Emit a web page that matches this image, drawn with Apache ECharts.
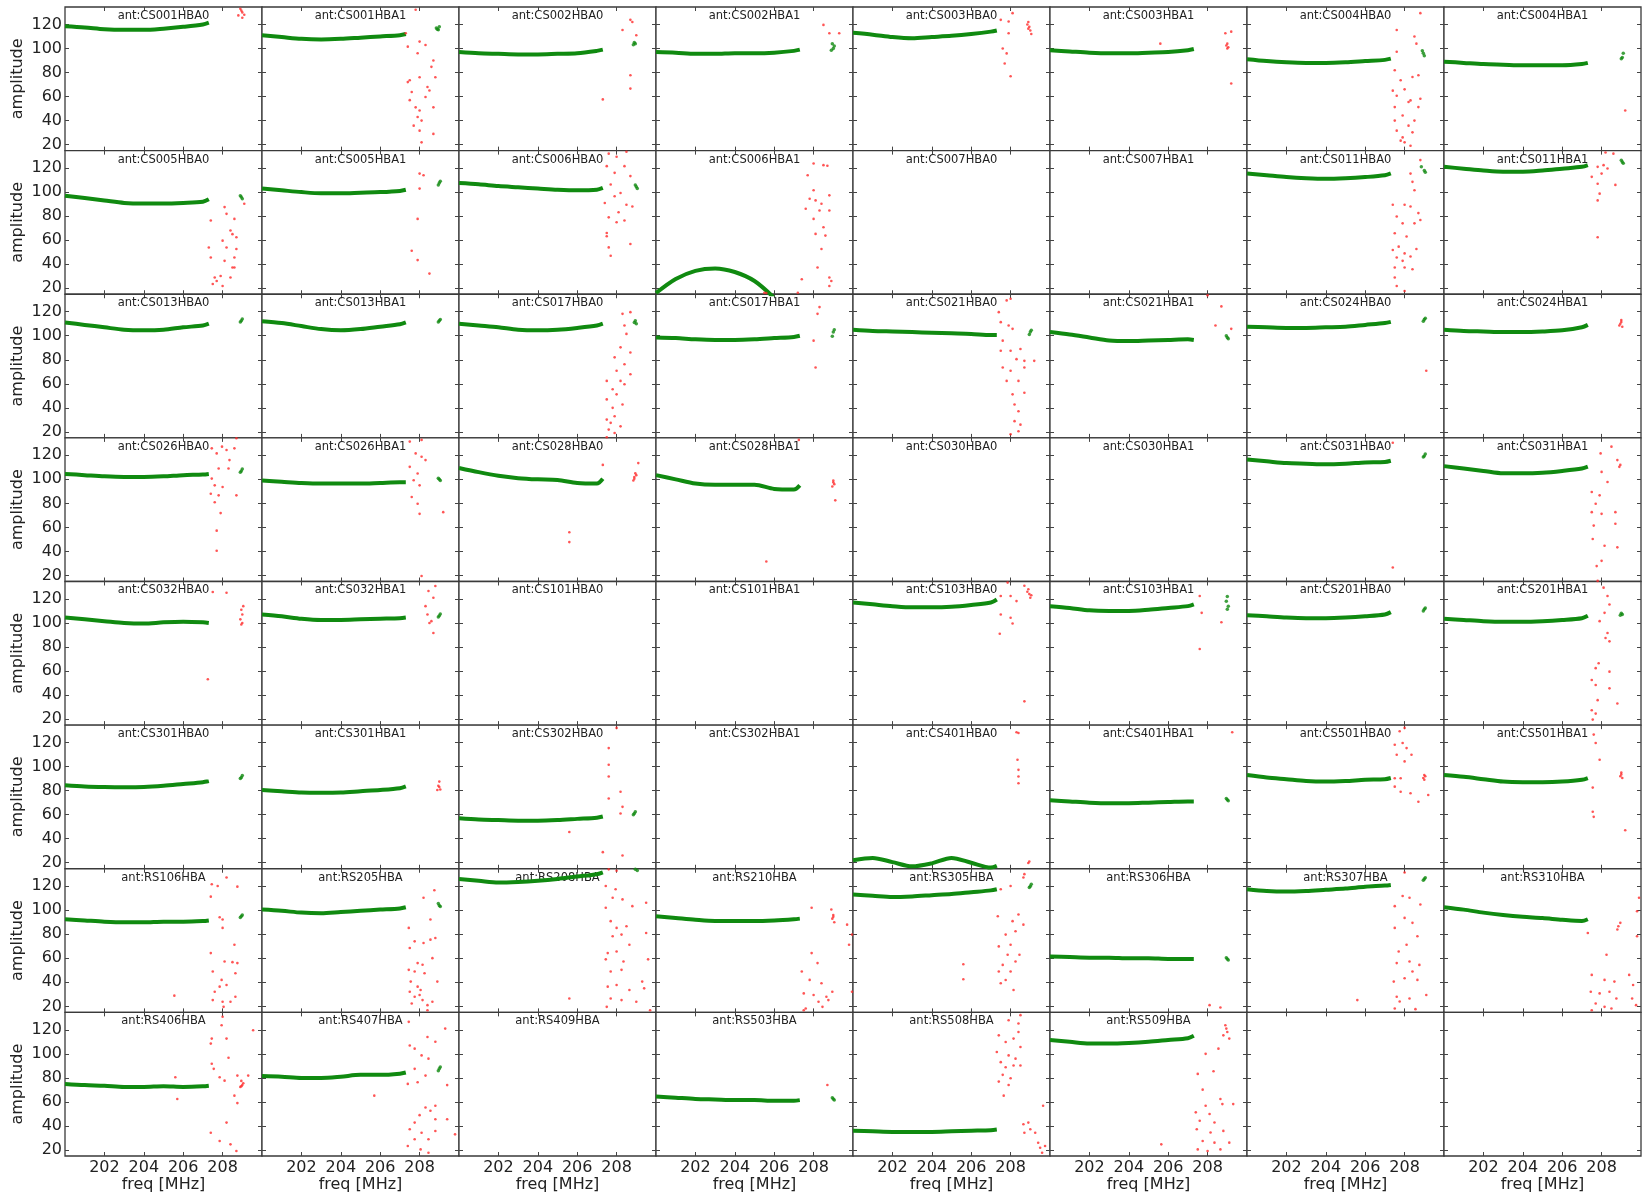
<!DOCTYPE html>
<html>
<head>
<meta charset="utf-8">
<script src="https://cdn.jsdelivr.net/npm/echarts@6/dist/echarts.min.js"></script>
<style>
  html, body { margin: 0; padding: 0; background: #fff; }
  #chart { width: 1642px; height: 1197px; }
</style>
</head>
<body>
<div id="chart"></div>
<script>
// antenna names, row by row (8 x 8), '' = no panel title
const antNames = [
  'CS001HBA0', 'CS001HBA1', 'CS002HBA0', 'CS002HBA1', 'CS003HBA0', 'CS003HBA1', 'CS004HBA0', 'CS004HBA1',
  'CS005HBA0', 'CS005HBA1', 'CS006HBA0', 'CS006HBA1', 'CS007HBA0', 'CS007HBA1', 'CS011HBA0', 'CS011HBA1',
  'CS013HBA0', 'CS013HBA1', 'CS017HBA0', 'CS017HBA1', 'CS021HBA0', 'CS021HBA1', 'CS024HBA0', 'CS024HBA1',
  'CS026HBA0', 'CS026HBA1', 'CS028HBA0', 'CS028HBA1', 'CS030HBA0', 'CS030HBA1', 'CS031HBA0', 'CS031HBA1',
  'CS032HBA0', 'CS032HBA1', 'CS101HBA0', 'CS101HBA1', 'CS103HBA0', 'CS103HBA1', 'CS201HBA0', 'CS201HBA1',
  'CS301HBA0', 'CS301HBA1', 'CS302HBA0', 'CS302HBA1', 'CS401HBA0', 'CS401HBA1', 'CS501HBA0', 'CS501HBA1',
  'RS106HBA', 'RS205HBA', 'RS208HBA', 'RS210HBA', 'RS305HBA', 'RS306HBA', 'RS307HBA', 'RS310HBA',
  'RS406HBA', 'RS407HBA', 'RS409HBA', 'RS503HBA', 'RS508HBA', 'RS509HBA', '', ''
];

// frequencies where the good (green) band is sampled
const greenFreq = [200, 201, 202, 203, 204, 205, 206, 207, 207.3];

// amplitude of the green band at greenFreq, per panel (null = no data)
const greenAmp = [
  [118.5,117.5,116,115.5,115.5,116.5,118,120,121.5],
  [111,109.5,108,107.5,108,109,110,111,112],
  [97,96,95.5,95,95,95.5,96,98,99],
  [97,96.5,95.5,95.5,96,96,96.5,98,99],
  [113,111.5,109.5,108.5,109.5,110.5,112,114,115],
  [98.5,97.5,96.5,96,96,96.5,97,98.5,99.5],
  [91,89.5,88.5,88,88,88.5,89.5,90.5,91.5],
  [89,88,87,86.5,86,86,86,87,88],

  [97,95,93,91,90.5,90.5,91,92,94],
  [103,101.5,100,99,99,99.5,100,101,102],
  [107.5,106.5,105,104,103,102,101.5,102,103.5],
  [16,27.7,34.5,36.5,33.5,26,12,null,null],
  null,
  null,
  [115.5,114,112.5,111.5,111,111.5,112.5,114,115.5],
  [121,119.5,118,117,117,118,119.5,121,122.5],

  [111,109,107,105,104.5,105,107,108.5,110],
  [112,110.5,108,105.5,104.5,105.5,107.5,109.5,111],
  [110,108.5,107,105,104.5,105,106.5,108.5,110],
  [98.5,98,97,96.5,96.5,97,98,99,100],
  [105,104,103.5,103,102.5,102,101.5,100.5,100.5],
  [103,101,98.5,96,95.5,96,96.5,97,96.5],
  [107.5,107,106.5,106.5,107,107.5,109,110.5,111.5],
  [105,104,103.5,103,103,103.5,104.5,107,109],

  [104.5,103.5,102.5,102,102,102.5,103.5,104,104.5],
  [99,98,97,96.5,96.5,96.5,97,97.5,97.5],
  [109.5,106,103,101,100,99.5,97,96.5,100.5],
  [103.5,100,96.5,95.5,95.5,95.5,92,91.5,95],
  null,
  null,
  [116.5,115,113.5,113,112.5,113,114,114.5,115.5],
  [111,109,107,105,105,105.5,107,109,110.5],

  [104.5,103,101.5,100,99.5,100.5,101,100.5,100],
  [107,105.5,103.5,102.5,102.5,103,103.5,104,104.5],
  null,
  null,
  [117,115.5,114,113,113,113.5,115,117,119.5],
  [114,112.5,110.5,110,110,111,112.5,114,115.5],
  [106.5,105.5,104.5,104,104,104.5,105.5,107,109],
  [103.5,102.5,101.5,101,101,101.5,102.5,104,106],

  [84.5,83.5,83,82.8,83,84,85.5,87,88],
  [80.5,79.5,78.5,78.3,78.5,79.5,80.5,82,83.5],
  [57,56,55.5,55,55,55.5,56.5,57.5,58.5],
  null,
  [22,24,20.5,17,19.5,24,20,16,17.5],
  [72,71,70,69.5,69.5,70,70.5,71,71],
  [93,91,89.5,88,87.5,88,89,89.5,90.5],
  [93,91.5,89.5,87.5,87,87,87.5,89,90.5],

  [92.5,91.5,90.5,90,90,90.5,90.5,91,91.5],
  [100.5,99.5,98,97.5,98.5,99.5,100.5,101.5,102.5],
  [126,124.5,123,123.5,124.5,126,128,130,131.5],
  [95,93.5,92,91,91,91,91.5,92.5,93],
  [113,112,111,111.5,112.5,113.5,115,116.5,117.5],
  [61.5,61,60.5,60.5,60,60,59.5,59.5,59.5],
  [117.5,116,115.5,116,117,118,119.5,120.5,121],
  [102.5,100.5,98,96,94.5,93.5,92,91,92.5],

  [75,74,73.5,72.5,72.5,73,72.5,73,73.5],
  [81.5,81,80,80,81,82.5,82.5,83.5,84.5],
  null,
  [64.5,63.5,62.5,62,61.5,61.5,61,61,61.5],
  [36,35.5,35,35,35,35.5,36,36.5,37],
  [111.5,110,108.5,108.5,109,110,111.5,113,115],
  null,
  null
];

// small green clump near 209 MHz, per panel
const tailPts = [
  [], [[208.85,117],[208.95,115.5],[209.0,118],[208.9,116]], [[208.85,103],[208.9,105],[208.95,104]], [[208.95,104],[209.0,100],[208.9,98.5],[209.05,102]],
  [], [], [[208.95,96],[209.0,94],[208.9,98]], [[209.0,91.5],[209.05,92.5],[209.1,96]],
  [[208.95,96],[209.0,94.5],[208.9,97]], [[209.0,107.5],[209.05,109],[208.95,106]], [[209.0,104.5],[208.95,106],[209.05,103]], [],
  [], [], [[209.0,118],[208.85,121],[209.05,116.5]], [[209.05,125],[209.1,124],[209.0,126.5]],
  [[208.95,112.5],[209.0,114],[208.9,111.5]], [[209.0,112.5],[209.05,113.5],[208.95,111.5]], [[208.9,111],[208.95,112.5],[209.0,110]], [[209.0,103],[208.95,99.5],[209.05,105]],
  [[209.0,103],[208.95,101],[209.05,104.5]], [[209.0,98.5],[208.95,100],[209.05,97.5]], [[209.0,113.5],[208.95,112],[209.05,114.5]], [],
  [[208.95,107],[209.0,108.5],[208.9,106]], [[209.0,100],[208.95,101],[209.05,99]], [], [],
  [], [], [[209.0,119.5],[209.05,121],[208.95,118.5]], [],
  [], [[209.0,106],[209.05,107.5],[208.95,105]], [], [],
  [], [[209.0,122],[208.95,118],[209.05,114],[209.0,111.5]], [[209.0,111.5],[208.95,110],[209.05,112.5]], [[209.0,108],[209.05,107],[208.95,106.5]],
  [[208.95,91],[209.0,92.5],[208.9,90]], [], [[208.9,61],[208.95,62.5],[208.85,60]], [],
  [], [[209.0,72.5],[208.95,73.5],[209.05,71.5]], [], [],
  [[208.95,95],[209.0,96],[208.9,94]], [[209.0,104],[208.95,105.5],[209.05,103]], [[208.95,134],[209.05,133]], [],
  [[209.0,120],[209.05,121.5],[208.95,119]], [[209.0,59.5],[208.95,60.5],[209.05,58.5]], [[209.0,126],[208.95,125],[209.05,127]], [],
  [], [[209.0,87.5],[208.95,86],[209.05,89]], [], [[209.0,62.5],[208.95,63.5],[209.05,61.5]],
  [], [], [], []
];

// flagged (red) points, per panel
const redPts = [
  [[208.9,133],[209.0,130],[208.8,127.5],[209.1,128],[209.0,125.5],[208.95,131.5]],
  [[207.8,132.2],[208.7,135],[207.3,112.7],[207.4,101.5],[208.0,105.7],[208.3,102.9],[207.9,96],[208.7,90],[208.6,84.7],[207.5,73.5],[207.4,72],[208.0,76],[208.4,68],[208.5,65],[208.8,76],[207.6,63.8],[207.5,57],[208.3,59.6],[207.8,51],[208.0,48.4],[208.7,51],[207.9,43],[208.1,40],[207.7,35.8],[208.0,31.6],[208.7,28.9],[208.1,21.9]],
  [[208.7,123.8],[208.3,115.4],[209.0,111],[208.7,77.7],[208.7,66.6],[207.3,57.6],[208.8,122]],
  [[208.5,119.6],[208.8,112.6],[209.3,112.6]],
  [[208.9,122],[208.95,118],[209.0,115],[208.85,120],[209.05,112],[208.9,116.5],[207.5,123.8],[207.9,122.4],[208.0,135],[208.1,129.4],[207.6,100],[207.8,95.9],[207.7,87.5],[208.0,76.9],[207.9,112.7]],
  [[209.0,104],[209.05,101],[208.95,102.5],[209.0,100],[208.9,112.7],[209.2,114],[209.2,70.8],[205.6,104]],
  [[207.6,115.4],[208.5,109.9],[207.6,97.3],[208.8,129.4],[208.6,104],[207.5,81.9],[207.8,73.5],[208.4,76.3],[208.7,77.7],[207.4,64.9],[207.6,60.6],[208.0,66],[208.3,56.8],[208.7,51.2],[207.5,51.2],[207.9,44.2],[208.2,35.8],[207.6,31.6],[208.4,30.2],[207.9,26],[208.0,21.9],[208.3,19],[208.5,40],[207.5,40],[208.2,55.4],[207.8,23.3],[208.8,58.2]],
  [[209.2,48.4]],

  [[207.4,76.3],[207.3,53.9],[207.4,45.6],[208.1,87.5],[208.2,81.9],[208.4,68],[208.6,77.7],[208.5,65],[208.7,62.4],[208.0,59.6],[208.2,53.9],[208.6,45.6],[208.1,42.8],[208.5,37.2],[207.9,30.2],[207.5,23.5],[208.0,21.9],[207.7,26],[208.4,28.9],[208.6,37.2],[209.1,90.3],[207.6,28.9],[208.7,52.6]],
  [[208.0,115.4],[208.2,114],[208.0,102.9],[207.9,77.7],[207.6,51.2],[207.9,43.4],[208.5,32.2]],
  [[207.6,132],[208.0,129.4],[208.5,133.6],[207.5,121.6],[207.9,116],[208.4,121.6],[208.7,113.3],[207.7,106.3],[208.2,99.3],[207.4,90.9],[207.9,96.5],[208.5,89.5],[208.8,88],[207.6,79],[208.1,83.2],[208.4,76.3],[207.5,63.2],[208.0,74.9],[207.6,54],[207.7,47],[208.7,56.8],[207.5,66]],
  [[207.7,114],[208.0,123.8],[208.5,122.4],[208.7,121.9],[208.0,101.5],[207.8,94.5],[208.1,93.1],[208.4,90.3],[208.8,97.3],[207.6,86.1],[208.3,84.7],[208.8,84.7],[208.0,77.7],[208.5,70.8],[208.1,65.2],[208.6,63.8],[208.4,52.6],[208.2,37.2],[208.8,28.9],[208.9,26],[208.8,21.9],[207.4,27.5],[207.2,16.3],[205.6,16],[205.5,16.3]],
  [],
  [],
  [[208.8,126.6],[208.3,115.4],[208.4,108.5],[208.5,101.5],[207.4,89.5],[208.0,89.5],[208.3,88],[208.7,82.5],[207.6,79.7],[207.9,74],[208.5,74],[208.8,76.8],[207.5,65.8],[208.1,63],[207.7,54.6],[207.4,51.8],[208.0,49],[208.3,46.4],[208.6,52.6],[207.6,45.6],[207.5,37.2],[208.0,37.2],[208.4,35.8],[207.5,28.9],[207.6,21.9],[208.0,17.7],[207.9,42.8]],
  [[207.5,112.7],[207.8,121],[208.0,115.4],[208.1,122.4],[208.3,119.6],[208.6,132],[207.8,107],[207.9,98.7],[207.8,93.1],[208.7,106],[207.8,62.4],[208.5,135],[208.2,133]],

  [],
  [],
  [[208.3,118.2],[208.7,119.6],[208.4,108.5],[208.5,101.5],[208.2,90.3],[207.9,82],[208.7,86],[208.4,76.3],[207.5,62.4],[208.2,62.4],[208.7,68],[207.8,55.4],[208.0,51.2],[207.5,47],[207.8,40],[208.3,42.8],[207.5,30.2],[207.9,33],[208.2,24.6],[207.6,21.9],[207.9,19.1],[207.5,15.5],[207.7,27.5],[208.4,59.6],[208.0,70.8]],
  [[208.3,123.8],[208.2,118.2],[208.0,95.9],[208.1,73.5]],
  [[207.8,129.4],[208.0,130.8],[207.4,119.6],[207.5,111.3],[207.9,108.5],[208.1,105.7],[207.6,95.9],[207.5,87.5],[208.0,87.5],[208.5,88.9],[208.3,80.5],[208.7,79.1],[209.2,79.1],[207.6,73.5],[208.0,70.8],[208.7,73.5],[208.4,62.4],[207.8,62.4],[208.1,51.2],[208.7,52.6],[208.2,42.8],[208.4,37.2],[208.2,28.9],[208.5,26],[208.4,20.5],[208.0,18]],
  [[208.0,133.6],[208.7,124.4],[208.4,108.5],[209.2,105.7]],
  [[209.1,70.8]],
  [[209.0,113],[208.95,110],[209.05,107.5],[209.0,111.5],[208.9,108.5]],

  [[207.45,125.8],[207.97,127.2],[208.2,124.4],[208.6,125.8],[208.7,134.2],[208.35,116],[207.8,109],[207.45,100.6],[207.6,95],[208.0,93.6],[207.4,88],[207.8,86.7],[208.7,86.7],[207.6,81],[207.9,71.9],[207.7,57.3],[207.7,40.6],[208.3,109],[207.7,121.6]],
  [[207.5,131.4],[208.1,132.8],[207.8,121.6],[208.1,118.8],[208.3,116],[207.5,110.4],[207.9,104.8],[207.7,99.2],[208.0,95],[207.6,85.3],[207.9,79.7],[208.0,71.3],[209.2,72.7],[208.1,19.6]],
  [[208.9,102],[208.95,105],[208.85,99],[209.0,103.5],[208.9,100.5],[207.3,112],[209.1,113.5],[205.6,56],[205.6,47.8]],
  [[209.0,99],[209.05,96],[208.95,94],[209.0,97.5],[209.1,82.5],[205.6,31.6],[207.25,132.8]],
  [],
  [],
  [[207.4,26.6],[207.4,130.5]],
  [[208.9,110.4],[208.95,112],[208.5,127.2],[207.95,121.6],[208.8,116],[208.0,106.2],[208.3,97.8],[207.5,89.5],[207.9,86.7],[207.7,79.7],[207.5,72.7],[208.0,71.3],[208.7,72.7],[207.6,61.5],[208.7,63],[207.55,50.4],[208.15,44.8],[208.8,43.4],[208.0,32.2],[207.75,27.8],[207.8,15.5]],

  [[208.95,111],[209.0,107],[208.9,103],[209.0,100],[208.95,98.7],[208.2,125.2],[207.5,125.8],[207.25,53.2],[209.05,114]],
  [[208.45,126.6],[208.8,130.8],[208.7,121],[208.3,114],[208.4,107],[208.6,101.5],[208.5,100],[208.7,91.7]],
  [],
  [],
  [[208.9,128],[208.95,124],[209.0,121],[208.85,126],[209.05,123],[207.85,133.6],[207.5,122.4],[208.0,122.4],[208.3,118.2],[208.7,131],[207.5,107],[208.0,104.3],[208.1,99.5],[207.45,91],[208.7,34.8]],
  [[207.9,135],[207.6,122.4],[207.7,108.4],[208.7,100.6],[207.6,78.3]],
  [],
  [[208.1,129.4],[208.3,122.4],[208.4,115.4],[208.15,108.4],[207.9,101.5],[208.3,91.7],[208.4,84.7],[208.2,87.5],[207.85,66.5],[207.7,62.4],[208.4,59.5],[207.5,52.6],[207.7,48.4],[208.4,45.6],[207.8,35.8],[207.5,27.4],[207.7,24.6],[207.55,19.6],[208.8,33]],

  [],
  [[209.0,87.5],[208.95,84],[209.05,81],[209.0,83],[208.9,80.5]],
  [[208.0,132.2],[207.6,115.4],[207.6,101.5],[207.6,91.7],[207.6,73.5],[208.2,79.1],[208.3,66.5],[208.2,61],[205.6,45.6],[207.3,28.8],[208.3,26]],
  [],
  [[208.9,19.8],[208.95,21],[208.3,128.6],[208.4,128],[208.35,105.7],[208.4,97.3],[208.4,91.7],[208.4,86.1]],
  [[209.25,128.6]],
  [[209.0,93],[208.95,90.5],[209.05,92],[209.0,89],[208.0,132.2],[207.75,129.4],[207.5,118.2],[207.9,119.6],[208.1,115.4],[207.6,109.8],[208.35,109.8],[208.0,104.3],[207.5,90.3],[207.8,90.3],[207.5,83.3],[207.8,79.1],[208.7,70.8],[209.2,76.4],[208.3,77.8]],
  [[209.0,95],[208.95,92],[209.05,90.5],[209.0,93.5],[207.7,119.6],[207.6,126.6],[207.9,105.7],[207.55,82.5],[207.55,62.4],[207.6,58.2],[209.2,47]],

  [[207.45,121.6],[207.75,120.2],[208.2,127.2],[208.75,119.6],[207.4,111.3],[207.85,94.2],[208.0,92.3],[208.0,85.3],[207.4,64.3],[208.1,57.3],[208.6,71.3],[208.5,56.8],[208.75,56],[207.5,49],[208.65,47.6],[207.85,36.4],[208.2,37.8],[207.6,32.2],[208.0,23.8],[208.4,23.8],[207.5,25.2],[208.65,28],[208.05,19.6],[205.55,28.9],[207.95,42]],
  [[208.75,116.6],[208.2,110.4],[208.55,92.3],[207.45,85.3],[207.75,74.1],[208.2,72.7],[208.55,75.5],[208.8,76.9],[207.5,68.5],[208.65,60.1],[207.9,56],[208.15,54.6],[207.45,50.4],[207.75,49],[208.25,47.6],[208.9,40.6],[207.55,40.6],[207.9,36.4],[208.05,33.6],[207.5,32.2],[207.75,28],[208.15,25.2],[208.65,23.8],[207.6,22.4],[208.4,21],[208.4,16.8],[208.0,29.4]],
  [[207.6,134],[208.0,132.8],[207.45,120.2],[207.95,117.4],[207.8,110.4],[208.3,109],[207.45,102],[208.8,103.4],[209.5,106.2],[207.7,90.9],[208.0,85.3],[208.5,86.7],[208.25,79.7],[207.8,78.3],[209.5,81.1],[208.65,71.3],[207.55,64.3],[208.0,65.7],[207.45,59.1],[208.35,57.3],[208.25,50.4],[207.7,49],[209.6,59.1],[207.55,36.4],[208.0,37.8],[208.65,33.6],[209.4,35],[207.7,26.6],[208.25,25.2],[209.0,23.8],[207.5,19.6],[209.7,16.8],[205.6,26.6],[209.3,40.6]],
  [[209.0,96],[208.95,93],[209.05,90],[209.0,94.5],[207.9,102.1],[208.9,100.6],[209.7,88],[209.95,79.7],[207.9,64.3],[207.4,49],[208.2,56],[207.8,42],[208.4,39.2],[207.5,30.8],[208.0,29.4],[208.65,28],[208.25,23.8],[207.6,18.2],[208.75,25.2],[208.45,19.6],[208.95,32.2],[209.8,71.3],[209.95,32.2],[207.5,16.8]],
  [[207.5,117.4],[208.0,120.2],[208.65,127.2],[208.7,130],[207.35,95],[208.1,90.9],[208.4,96.4],[208.65,88],[207.75,79.7],[208.25,82.5],[207.4,69.9],[208.0,71.3],[207.85,62.9],[208.25,57.3],[207.6,54.5],[208.0,49],[207.4,49],[207.75,41.9],[208.15,33.6],[207.5,39.2],[205.6,55.1],[205.6,42.5],[208.45,62.9]],
  [[208.1,21.0],[208.65,19.1]],
  [[207.9,111.8],[208.25,110.4],[207.5,103.4],[208.8,104.8],[208.0,93.6],[208.4,89.5],[207.5,85.3],[208.65,78.3],[208.1,71.3],[207.7,65.7],[207.6,56],[208.25,57.3],[208.75,54.5],[208.4,49],[207.45,40.6],[208.0,43.4],[208.65,42],[207.6,28],[208.25,26.6],[209.1,29.4],[207.5,18.2],[208.55,17.7],[208.0,131.4],[205.6,25.2],[207.75,24]],
  [[208.85,86.7],[208.95,89.5],[208.8,83.9],[207.3,81.1],[208.25,63],[209.9,110.4],[209.8,99.2],[209.8,78.3],[207.5,46.2],[208.15,42],[208.65,40.6],[207.45,32.2],[207.9,30.8],[208.4,32.2],[208.75,26.6],[207.7,22.4],[208.15,19.6],[208.5,18.2],[207.5,16.8],[209.55,26.6],[209.75,21],[209.4,46.2],[209.6,37.8]],

  [[208.95,77.5],[209.0,74],[208.9,72.5],[209.05,75.5],[208.95,73],[207.4,108.5],[207.45,112.7],[207.95,123.8],[208.2,112.7],[207.45,91.7],[208.3,96.7],[207.55,87.5],[207.85,80.5],[208.1,77.7],[209.3,81.9],[208.75,81.9],[205.6,80.5],[205.7,62.4],[208.6,65.2],[208.75,59],[208.2,42.8],[207.4,34.4],[207.85,27.5],[208.4,24.7],[208.7,19.1],[208.0,130.8],[209.55,119.6]],
  [[207.45,126.6],[207.5,107],[207.75,104.3],[208.4,114],[208.8,110],[208.1,98.7],[208.45,96],[207.75,87.5],[208.3,81.9],[207.9,76.4],[207.4,75],[209.4,74],[205.7,65.2],[208.55,52.6],[208.3,55.4],[208.8,56.8],[208.0,49],[207.75,42.8],[208.8,45.6],[207.5,37.2],[208.1,34.4],[208.8,35.8],[208.45,28.9],[207.75,28.9],[207.4,23.3],[208.05,20.5],[208.45,17.7],[209.8,33],[209.4,45.6],[209.3,121]],
  [],
  [[208.7,74.1]],
  [[207.9,128],[208.4,125.2],[208.5,132.2],[207.4,115.4],[207.75,109.8],[208.15,112.7],[208.5,105.7],[207.3,101.5],[207.9,98.7],[208.25,96],[207.5,93.1],[207.75,88.9],[208.15,90.3],[208.5,90.3],[207.6,82.5],[208.0,79.7],[207.4,76.9],[207.9,74.1],[207.65,65.2],[208.4,118.2],[208.65,41.4],[208.9,42.8],[209.0,37.2],[209.25,34.4],[209.4,26],[209.5,21.9],[209.6,17.7],[209.65,56.8],[209.75,23.3],[208.7,34.4]],
  [[208.9,123.8],[209.0,118.2],[209.1,112.7],[208.8,115.4],[208.95,121],[207.9,100],[208.3,85.5],[207.5,83.3],[207.75,70.2],[208.65,62.4],[207.9,56.8],[208.75,58.2],[207.4,51.3],[208.1,49.9],[209.3,58.2],[207.6,44.3],[208.35,42.9],[207.45,37.3],[208.15,34.5],[208.8,35.9],[207.75,27.5],[208.35,26.1],[209.1,26.1],[207.5,20.5],[208.0,19.1],[208.65,20.5],[205.65,24.7],[208.55,104.3]],
  [],
  []
];

const xTicks = [202, 204, 206, 208];
const yTicks = [20, 40, 60, 80, 100, 120];

const NROW = 8, NCOL = 8;
const plotLeft = 65, plotTop = 7, plotRight = 1641, plotBottom = 1156;
const cellW = (plotRight - plotLeft) / NCOL;
const cellH = (plotBottom - plotTop) / NROW;
const font = 'DejaVu Sans';

const grids = [], xAxes = [], yAxes = [], series = [], titles = [];

for (let i = 0; i < NROW * NCOL; i++) {
  const r = Math.floor(i / NCOL), c = i % NCOL;
  const left = plotLeft + c * cellW, top = plotTop + r * cellH;
  grids.push({
    left: left, top: top, width: cellW, height: cellH,
    show: true, borderColor: '#3a3a3a', borderWidth: 1.3, backgroundColor: '#fff'
  });
  const tick = { show: true, inside: true, length: 4, lineStyle: { color: '#444', width: 1 } };
  const bottomRow = r === NROW - 1, firstCol = c === 0;
  // bottom x axis (labels only on the last row)
  xAxes.push({
    type: 'value', gridIndex: i, position: 'bottom', min: 200, max: 210,
    axisLine: { show: false }, splitLine: { show: false },
    axisTick: Object.assign({ customValues: xTicks }, tick),
    axisLabel: { show: bottomRow, customValues: xTicks, fontSize: 16, color: '#222', margin: 4, fontFamily: font },
    name: bottomRow ? 'freq [MHz]' : '', nameLocation: 'middle', nameGap: 21,
    nameTextStyle: { fontSize: 16, color: '#222', fontFamily: font }
  });
  // top x axis (ticks only)
  xAxes.push({
    type: 'value', gridIndex: i, position: 'top', min: 200, max: 210,
    axisLine: { show: false }, splitLine: { show: false },
    axisTick: Object.assign({ customValues: xTicks }, tick), axisLabel: { show: false }
  });
  // left y axis (labels only on the first column)
  yAxes.push({
    type: 'value', gridIndex: i, position: 'left', min: 15, max: 134.5,
    axisLine: { show: false }, splitLine: { show: false },
    axisTick: Object.assign({ customValues: yTicks }, tick),
    axisLabel: { show: firstCol, customValues: yTicks, fontSize: 16, color: '#222', margin: 3, fontFamily: font },
    name: firstCol ? 'amplitude' : '', nameLocation: 'middle', nameGap: 39,
    nameTextStyle: { fontSize: 16, color: '#222', fontFamily: font }
  });
  // right y axis (ticks only)
  yAxes.push({
    type: 'value', gridIndex: i, position: 'right', min: 15, max: 134.5,
    axisLine: { show: false }, splitLine: { show: false },
    axisTick: Object.assign({ customValues: yTicks }, tick), axisLabel: { show: false }
  });

  if (antNames[i]) {
    titles.push({
      text: 'ant:' + antNames[i], left: left + cellW / 2, top: top + 3, textAlign: 'center',
      padding: 0, z: 1,
      textStyle: { fontSize: 11.5, fontWeight: 'normal', color: '#222', fontFamily: font }
    });
  }

  const amp = greenAmp[i];
  if (amp) {
    const pts = [];
    amp.forEach((v, k) => { if (v !== null) pts.push([greenFreq[k], v]); });
    series.push({
      type: 'line', xAxisIndex: 2 * i, yAxisIndex: 2 * i, data: pts,
      showSymbol: false, smooth: 0.3, clip: true, silent: true,
      lineStyle: { color: '#108a10', width: 4 }, z: 3
    });
  }
  if (tailPts[i].length) {
    series.push({
      type: 'scatter', xAxisIndex: 2 * i, yAxisIndex: 2 * i, data: tailPts[i],
      symbolSize: 3.5, clip: true, silent: true,
      itemStyle: { color: '#108a10' }, z: 3
    });
  }
  if (redPts[i].length) {
    series.push({
      type: 'scatter', xAxisIndex: 2 * i, yAxisIndex: 2 * i, data: redPts[i],
      symbolSize: 2.6, clip: true, silent: true,
      itemStyle: { color: '#ff2a2a' }, z: 4
    });
  }
}

const chart = echarts.init(document.getElementById('chart'), null, { renderer: 'canvas' });
chart.setOption({
  animation: false,
  backgroundColor: '#fff',
  textStyle: { fontFamily: font },
  title: titles,
  grid: grids,
  xAxis: xAxes,
  yAxis: yAxes,
  series: series
});
</script>
</body>
</html>
